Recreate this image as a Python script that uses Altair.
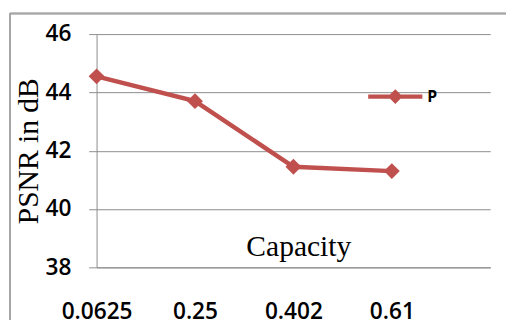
import json
import altair as alt
import pandas as pd

# Data
capacity = ["0.0625", "0.25", "0.402", "0.61"]
psnr = [44.55, 43.7, 41.45, 41.3]
series_name = "P"
y_ticks = [38, 40, 42, 44, 46]

df = pd.DataFrame({
    "idx": list(range(len(capacity))),
    "capacity": capacity,
    "psnr": psnr,
    "series": [series_name] * len(capacity),
})

RED = "#C0504D"
GRID = "#8c8c8c"
label_expr = json.dumps(capacity) + "[datum.value]"

x_enc = alt.X(
    "idx:Q",
    scale=alt.Scale(domain=[0, 4], nice=False, zero=False),
    axis=alt.Axis(
        values=list(range(len(capacity))),
        labelExpr=label_expr,
        title="Capacity",
        titleFont="Liberation Serif",
        titleFontSize=30,
        titleFontWeight="normal",
        titleColor="black",
        titleX=205,
        titleY=-12,
        titleAlign="center",
        titleBaseline="alphabetic",
        grid=False,
        ticks=False,
        domainColor=GRID,
        labelFont="Open Sans",
        labelFontSize=23,
        labelFontWeight=600,
        labelColor="black",
        labelPadding=34,
        labelBaseline="top",
        labelFlush=False,
        labelOverlap=False,
    ),
)

y_enc = alt.Y(
    "psnr:Q",
    scale=alt.Scale(domain=[38, 46], nice=False, zero=False),
    axis=alt.Axis(
        values=y_ticks,
        title="PSNR in dB",
        titleFont="Liberation Serif",
        titleFontSize=30,
        titleFontWeight="normal",
        titleColor="black",
        titleAngle=-90,
        titleX=-69,
        titleY=118.5,
        titleAlign="center",
        titleBaseline="middle",
        grid=True,
        gridColor=GRID,
        gridWidth=1,
        domainColor=GRID,
        tickColor=GRID,
        tickSize=8,
        labelFont="Open Sans",
        labelFontSize=23,
        labelFontWeight=600,
        labelColor="black",
        labelPadding=18,
    ),
)

color_scale = alt.Scale(domain=[series_name], range=[RED])
legend = alt.Legend(
    title=None,
    orient="none",
    legendX=276,
    legendY=36,
    symbolType="M-1,-0.08H1V0.08H-1Z M0,-0.27L0.27,0L0,0.27L-0.27,0Z",
    symbolSize=3025,
    symbolStrokeWidth=0,
    symbolFillColor=RED,
    labelFont="Open Sans",
    labelFontSize=16,
    labelFontWeight="bold",
    labelColor="black",
    labelOffset=5,
)
color_enc = alt.Color("series:N", scale=color_scale, legend=legend)

line = alt.Chart(df).mark_line(strokeWidth=4.5).encode(
    x=x_enc, y=y_enc, color=color_enc,
)

points = alt.Chart(df).mark_point(shape="diamond", size=260, filled=True, opacity=1).encode(
    x="idx:Q", y="psnr:Q", color=color_enc,
)

border_v = alt.Chart(df).mark_rule(color="#a6a6a6", strokeWidth=1.5).encode(
    x=alt.value(-88), y=alt.value(-21), y2=alt.value(300)
)
border_h = alt.Chart(df).mark_rule(color="#a6a6a6", strokeWidth=1.5).encode(
    x=alt.value(-88), x2=alt.value(420), y=alt.value(-21)
)

chart = alt.layer(border_v, border_h, line, points).properties(
    width=400,
    height=237,
    autosize=alt.AutoSizeParams(type="none"),
    padding={"left": 90, "top": 24, "right": 16, "bottom": 51},
    background="white",
).configure_view(stroke=None)

chart.save("out.html", embed_options={"renderer": "svg", "actions": False})
